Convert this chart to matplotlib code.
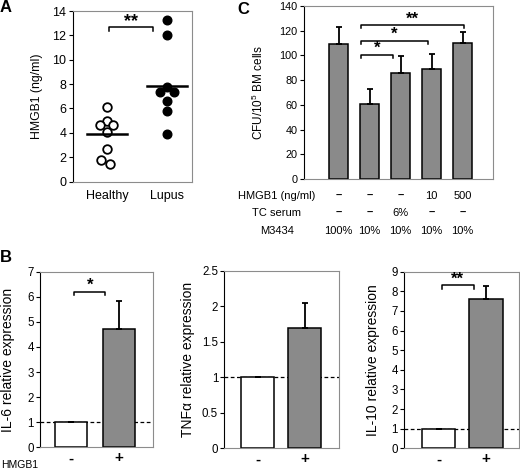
import numpy as np
import matplotlib
matplotlib.use("Agg")
import matplotlib.pyplot as plt
from matplotlib.transforms import blended_transform_factory

plt.rcParams['font.family'] = ['Liberation Sans', 'DejaVu Sans']
plt.rcParams['mathtext.default'] = 'regular'

# panel A: serum HMGB1
healthy = [6.1, 5.0, 4.65, 4.65, 4.05, 2.7, 1.75, 1.4]
lupus = [13.3, 12.05, 7.8, 7.35, 7.35, 6.6, 5.8, 3.9]
healthy_line = 3.9
lupus_line = 7.85
groups_a = ['Healthy', 'Lupus']

# panel C: CFU counts
cfu = [109, 61, 85.5, 88.7, 109.8]
cfu_err = [14, 11.6, 14, 12.2, 9.2]
row_names = ['HMGB1 (ng/ml)', 'TC serum', 'M3434']
row_hmgb1 = ['–', '–', '–', '10', '500']
row_serum = ['–', '–', '6%', '–', '–']
row_m3434 = ['100%', '10%', '10%', '10%', '10%']

# panel B: relative expression
il6 = [1, 4.72]
il6_err = [0, 1.12]
tnf = [1, 1.70]
tnf_err = [0, 0.35]
il10 = [1, 7.61]
il10_err = [0, 0.68]
b_ticks = ['-', '+']

W, H = 520, 471
fig = plt.figure(figsize=(W / 100, H / 100), dpi=100)

GREY = '#8a8a8a'
FRAME = '#8c8c8c'


def add_ax(l, t, r, b):
    return fig.add_axes([l / W, 1 - b / H, (r - l) / W, (b - t) / H])


def frame(ax, fs=8):
    for s in ['top', 'right', 'bottom']:
        ax.spines[s].set_color(FRAME)
    ax.spines['left'].set_color('k')
    ax.tick_params(axis='y', direction='out', length=3, width=0.8, labelsize=fs, pad=1.5)
    ax.tick_params(axis='x', length=0)


def bracket(ax, x0, x1, y, drop, star, fs=12):
    ax.plot([x0, x0, x1, x1], [y - drop, y, y, y - drop], color='k', lw=1.1, clip_on=False)
    ax.annotate(star, ((x0 + x1) / 2, y), xytext=(0, 4.5), textcoords='offset points',
                ha='center', va='center', fontsize=fs, fontweight='bold')


# ---- A
ax = add_ax(72.5, 11, 191.7, 181.5)
frame(ax, 9)
h_off = [0, 0, -0.11, 0.1, 0, 0, -0.095, 0.045]
l_off = [0, 0, 0, -0.11, 0.11, 0, 0, 0]
ax.plot(1 + np.array(h_off), healthy, 'o', ms=6.2, mfc='white', mec='k', mew=1.3)
ax.plot(2 + np.array(l_off), lupus, 'o', ms=6.2, mfc='k', mec='k')
ax.plot([0.67, 1.33], [healthy_line] * 2, color='k', lw=1.8)
ax.plot([1.67, 2.33], [lupus_line] * 2, color='k', lw=1.8)
bracket(ax, 1.03, 1.77, 12.65, 0.3, '**', 13)
ax.set_xlim(0.425, 2.41)
ax.set_ylim(0, 14)
ax.set_yticks(range(0, 15, 2))
ax.set_xticks([1, 2])
ax.set_xticklabels(groups_a, fontsize=9)
ax.tick_params(axis='x', pad=6)
ax.set_ylabel('HMGB1 (ng/ml)', fontsize=8.8)
ax.yaxis.set_label_coords(-0.25, 0.5)

# ---- C
ax = add_ax(304, 6, 493, 179)
frame(ax, 7.8)
xc = np.arange(len(cfu))
ax.bar(xc, cfu, width=0.63, color=GREY, edgecolor='k', lw=1.1,
       yerr=[np.zeros(len(cfu)), cfu_err], capsize=2.5,
       error_kw=dict(elinewidth=1.3, capthick=1.3, ecolor='k'))
bracket(ax, 0.72, 1.74, 100.6, 2.4, '*')
bracket(ax, 0.72, 2.88, 111.7, 2.4, '*')
bracket(ax, 0.72, 4.04, 124.6, 2.4, '**')
ax.set_xlim(-1.12, 4.98)
ax.set_ylim(0, 140)
ax.set_yticks(range(0, 141, 20))
ax.set_xticks([])
ax.set_ylabel('CFU/10$^5$ BM cells', fontsize=8.5)
ax.yaxis.set_label_coords(-0.2, 0.5)
tr = blended_transform_factory(ax.transData, ax.transAxes)
tra = ax.transAxes
for row, name, yy in zip([row_hmgb1, row_serum, row_m3434], row_names, [-0.098, -0.197, -0.30]):
    ax.text(-0.144, yy, name, transform=tra, ha='center', va='center', fontsize=8)
    for i, s in enumerate(row):
        ax.text(xc[i], yy, s, transform=tr, ha='center', va='center', fontsize=8,
                fontweight='bold' if s == '–' else 'normal')

# ---- B
def expr_panel(rect, vals, errs, ylim, yticks, yticklabels, label, lab_x, xlim, width):
    ax = add_ax(*rect)
    frame(ax, 8.3)
    x = np.arange(2)
    ax.bar(x, vals, width=width, color=['white', GREY], edgecolor='k', lw=1.1,
           yerr=[np.zeros(2), errs], capsize=2.5,
           error_kw=dict(elinewidth=1.3, capthick=1.3, ecolor='k'))
    ax.axhline(1, color='k', lw=0.9, ls=(0, (3, 2)), zorder=0.5)
    ax.set_xlim(*xlim)
    ax.set_ylim(*ylim)
    ax.set_yticks(yticks)
    ax.set_yticklabels(yticklabels)
    ax.set_xticks(x)
    ax.set_xticklabels(b_ticks, fontsize=11, fontweight='bold')
    ax.tick_params(axis='x', pad=3)
    ax.set_ylabel(label, fontsize=10)
    ax.yaxis.set_label_coords(lab_x, 0.5)
    return ax


ax = expr_panel((40, 271.7, 152.7, 447.3), il6, il6_err, (0, 7), range(8),
                [str(v) for v in range(8)], 'IL-6 relative expression', -0.22,
                (-0.657, 1.716), 0.68)
bracket(ax, 0.06, 0.72, 6.2, 0.14, '*')

tnf_ticks = [0, 0.5, 1, 1.5, 2, 2.5]
ax = expr_panel((224.3, 270.7, 339.3, 448.3), tnf, tnf_err, (0, 2.5), tnf_ticks,
                ['0', '0.5', '1', '1.5', '2', '2.5'], 'TNFα relative expression', -0.255,
                (-0.71, 1.736), 0.71)

ax = expr_panel((404, 271.7, 519.3, 448.3), il10, il10_err, (0, 9), range(10),
                [str(v) for v in range(10)], 'IL-10 relative expression', -0.208,
                (-0.73, 1.70), 0.70)
bracket(ax, 0.07, 0.74, 8.3, 0.2, '**')

fig.text(1 / W, 1 - 465 / H, 'HMGB1', ha='left', va='center', fontsize=7.5)

# panel letters
for s, x, y in [('A', 0, 8), ('C', 237, 9), ('B', 0, 257)]:
    fig.text(x / W, 1 - y / H, s, ha='left', va='center', fontsize=12, fontweight='bold')

fig.savefig('out.png', dpi=100)
